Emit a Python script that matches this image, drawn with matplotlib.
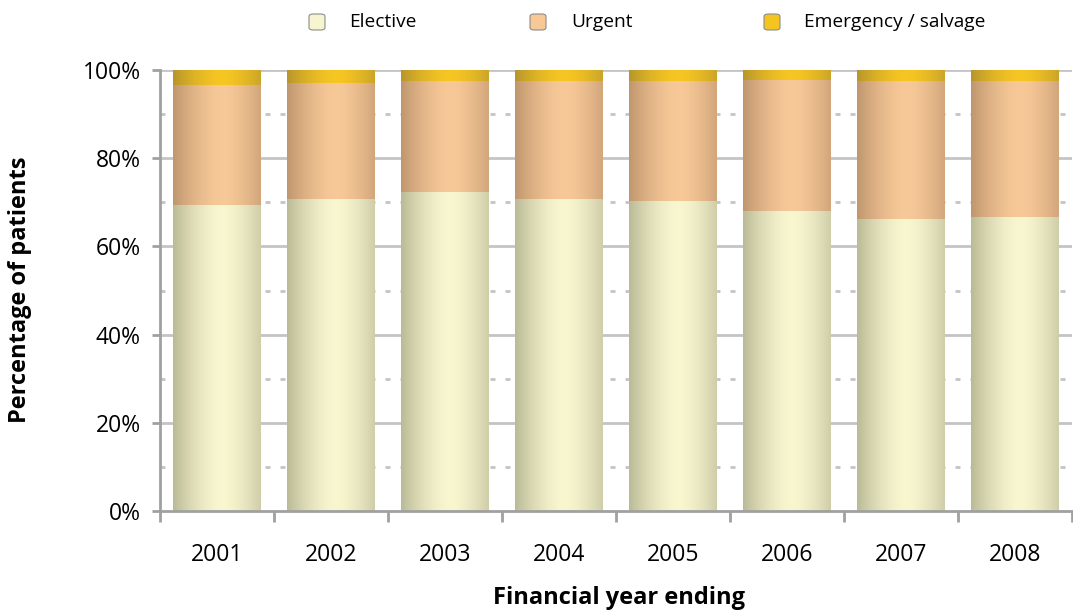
import matplotlib.pyplot as plt
import numpy as np
from matplotlib.colors import to_rgb
from matplotlib.patches import FancyBboxPatch

plt.rcParams['font.family'] = ['Open Sans', 'DejaVu Sans']

# %% Data
years = ['2001', '2002', '2003', '2004', '2005', '2006', '2007', '2008']
elective = [69.4, 70.7, 72.3, 70.7, 70.3, 68.0, 66.2, 66.7]
urgent = [27.2, 26.4, 25.2, 26.8, 27.2, 29.7, 31.3, 30.8]
emergency = [3.4, 2.9, 2.5, 2.5, 2.5, 2.3, 2.5, 2.5]
series_names = ['Elective', 'Urgent', 'Emergency / salvage']

# edge (dark) and centre (light) colour for each series
edge_cols = ['#BABA96', '#BF966E', '#B7952C']
mid_cols = ['#F9F7D0', '#F8C998', '#F6C622']
legend_cols = ['#F7F5CF', '#F8C896', '#F4C51F']

W, H = 1073, 612


def shade_bar(ax, patch, c_edge, c_mid):
    # horizontal cylinder-style gradient clipped to the bar
    x0, y0 = patch.get_x(), patch.get_y()
    w, h = patch.get_width(), patch.get_height()
    t = np.linspace(0, 1, 200)
    k = np.clip(1 - np.abs((t - 0.56) / 0.56) ** 1.6, 0, 1)
    ce, cm = np.array(to_rgb(c_edge)), np.array(to_rgb(c_mid))
    img = ce[None, :] + k[:, None] * (cm - ce)[None, :]
    im = ax.imshow(img[None, :, :], extent=[x0, x0 + w, y0, y0 + h],
                   aspect='auto', zorder=3, interpolation='bilinear')
    im.set_clip_path(patch)
    patch.set_facecolor('none')


fig = plt.figure(figsize=(W / 100, H / 100), dpi=100)
ax = fig.add_axes([160 / W, 101 / H, 912 / W, 441 / H])

x = np.arange(len(years))
bottom = np.zeros(len(years))
for vals, ce, cm in zip([elective, urgent, emergency], edge_cols, mid_cols):
    bars = ax.bar(x, vals, 0.77, bottom=bottom, color='none', linewidth=0, zorder=3)
    for p in bars.patches:
        shade_bar(ax, p, ce, cm)
    bottom += np.array(vals)

ax.set_xlim(-0.5, len(years) - 0.5)
ax.set_ylim(0, 100)

# gridlines: solid every 20%, dashed in between
for v in range(20, 101, 20):
    ax.axhline(v, color='#C4C4C4', lw=2, zorder=1)
for v in range(10, 100, 20):
    ax.axhline(v, color='#C4C4C4', lw=2, ls=(0, (1.8, 3.6)), zorder=1)

ax.set_yticks(range(0, 101, 20))
ax.set_yticklabels(['%d%%' % v for v in range(0, 101, 20)], fontsize=16.5)
ax.set_xticks(x)
ax.set_xticklabels(years, fontsize=16.5)
ax.set_xticks(np.arange(-0.5, len(years)), minor=True)
ax.tick_params(axis='x', which='major', length=0, pad=23)
ax.tick_params(axis='x', which='minor', length=8, width=2, color='#A0A0A0')
ax.tick_params(axis='y', length=6, width=2, color='#A0A0A0', pad=8)

for s in ['top', 'right']:
    ax.spines[s].set_visible(False)
for s in ['left', 'bottom']:
    ax.spines[s].set_color('#A0A0A0')
    ax.spines[s].set_linewidth(2)
    ax.spines[s].set_zorder(4)

fig.text(619 / W, 1 - 598 / H, 'Financial year ending', fontsize=17,
         fontweight='bold', ha='center', va='center')
fig.text(20 / W, 1 - 290 / H, 'Percentage of patients', fontsize=17,
         fontweight='bold', ha='center', va='center', rotation=90)

# legend along the top: rounded swatch then label
box_x = [309, 530, 764]
text_x = [349, 571, 804]
for bx, tx, c, name in zip(box_x, text_x, legend_cols, series_names):
    fig.patches.append(FancyBboxPatch((bx / W, 1 - 30 / H), 16 / W, 16 / H,
                                      boxstyle='round,pad=0,rounding_size=0.004',
                                      facecolor=c, edgecolor='#8C8C8C', lw=0.8,
                                      transform=fig.transFigure, figure=fig))
    fig.text(tx / W, 1 - 22 / H, name, fontsize=13.8, ha='left', va='center')

fig.savefig('out.png', dpi=100)
